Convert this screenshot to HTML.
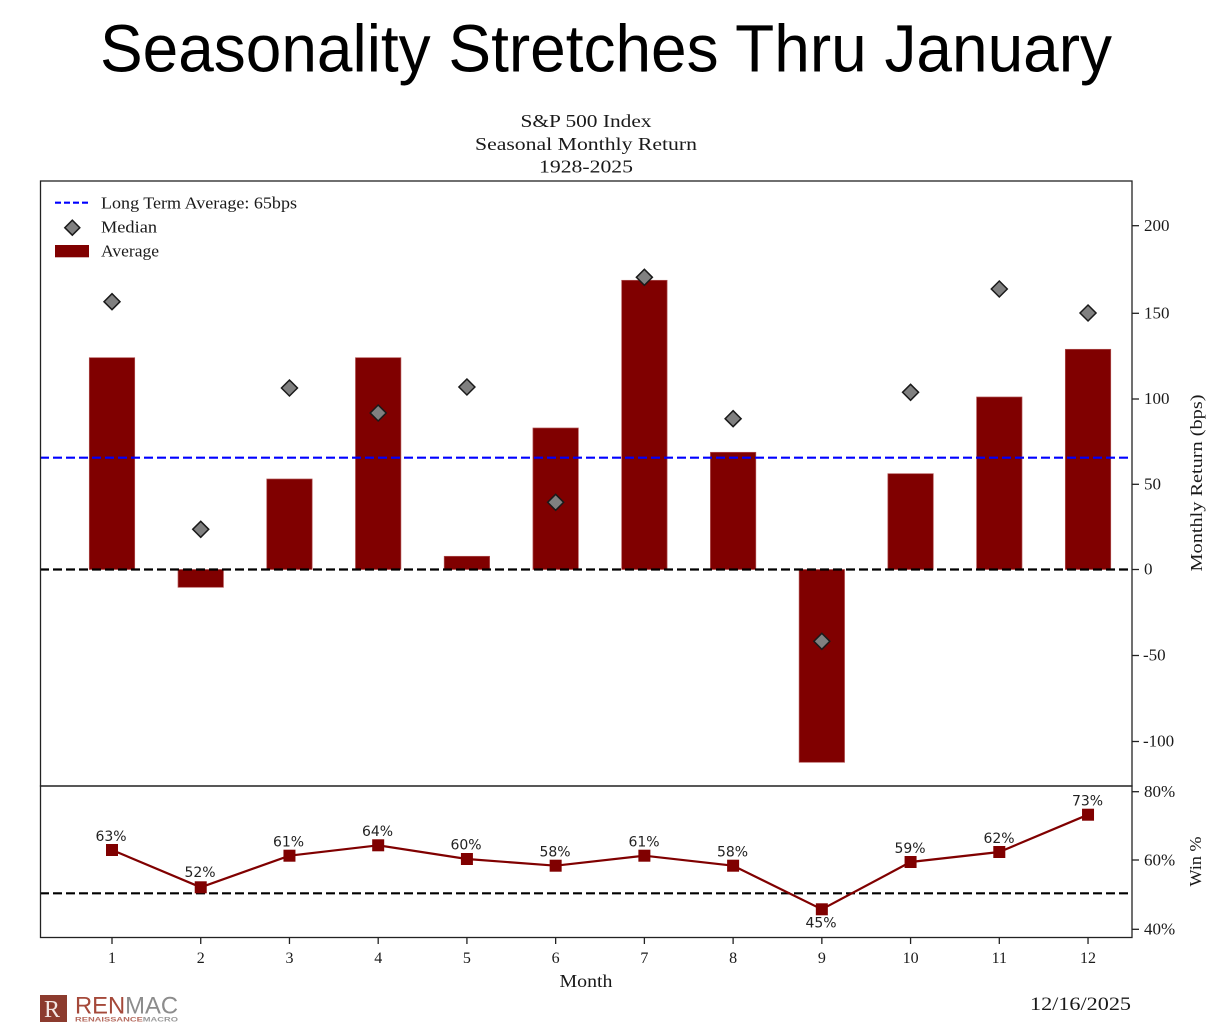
<!DOCTYPE html>
<html>
<head>
<meta charset="utf-8">
<style>
html,body{margin:0;padding:0;background:#fff;}
svg{display:block;}
.serif{font-family:"Liberation Serif","DejaVu Serif",serif;fill:#1a1a1a;}
.sans{font-family:"DejaVu Sans","Liberation Sans",sans-serif;fill:#222;}
</style>
</head>
<body>
<svg width="1218" height="1032" viewBox="0 0 1218 1032" xmlns="http://www.w3.org/2000/svg">
<rect x="0" y="0" width="1218" height="1032" fill="#fff"/>

<!-- Main title -->
<text x="100" y="71.7" font-family="'Liberation Sans',sans-serif" font-size="67" fill="#000" textLength="1012" lengthAdjust="spacingAndGlyphs">Seasonality Stretches Thru January</text>

<!-- Chart title -->
<text class="serif" x="586" y="127" font-size="18" text-anchor="middle" textLength="131" lengthAdjust="spacingAndGlyphs">S&amp;P 500 Index</text>
<text class="serif" x="586" y="150" font-size="18" text-anchor="middle" textLength="222" lengthAdjust="spacingAndGlyphs">Seasonal Monthly Return</text>
<text class="serif" x="586" y="172.5" font-size="18" text-anchor="middle" textLength="94" lengthAdjust="spacingAndGlyphs">1928-2025</text>

<!-- Bars -->
<g fill="#800000" stroke="#b05050" stroke-width="0.7">
<rect x="89.3" y="357.7" width="45.4" height="211.8"/>
<rect x="178.03" y="569.5" width="45.4" height="17.8"/>
<rect x="266.76" y="479" width="45.4" height="90.5"/>
<rect x="355.49" y="357.7" width="45.4" height="211.8"/>
<rect x="444.22" y="556.3" width="45.4" height="13.2"/>
<rect x="532.95" y="428" width="45.4" height="141.5"/>
<rect x="621.68" y="280.3" width="45.4" height="289.2"/>
<rect x="710.41" y="452.3" width="45.4" height="117.2"/>
<rect x="799.14" y="569.5" width="45.4" height="192.8"/>
<rect x="887.87" y="473.7" width="45.4" height="95.8"/>
<rect x="976.6" y="397" width="45.4" height="172.5"/>
<rect x="1065.33" y="349.3" width="45.4" height="220.2"/>
</g>

<!-- Zero line and long term average -->
<line x1="40" y1="569.5" x2="1132" y2="569.5" stroke="#000" stroke-width="2.2" stroke-dasharray="9,4"/>
<line x1="40" y1="457.7" x2="1132" y2="457.7" stroke="#0000ff" stroke-width="2.2" stroke-dasharray="9,4"/>

<!-- Median diamonds -->
<g fill="#808080" stroke="#1a1a1a" stroke-width="1.5">
<polygon points="112,293.7 120,301.7 112,309.7 104,301.7"/>
<polygon points="200.73,521.3 208.73,529.3 200.73,537.3 192.73,529.3"/>
<polygon points="289.46,380 297.46,388 289.46,396 281.46,388"/>
<polygon points="378.19,405 386.19,413 378.19,421 370.19,413"/>
<polygon points="466.92,379 474.92,387 466.92,395 458.92,387"/>
<polygon points="555.65,494.3 563.65,502.3 555.65,510.3 547.65,502.3"/>
<polygon points="644.38,269.3 652.38,277.3 644.38,285.3 636.38,277.3"/>
<polygon points="733.11,410.7 741.11,418.7 733.11,426.7 725.11,418.7"/>
<polygon points="821.84,633.3 829.84,641.3 821.84,649.3 813.84,641.3"/>
<polygon points="910.57,384.3 918.57,392.3 910.57,400.3 902.57,392.3"/>
<polygon points="999.3,281 1007.3,289 999.3,297 991.3,289"/>
<polygon points="1088.03,305 1096.03,313 1088.03,321 1080.03,313"/>
</g>

<!-- Legend -->
<line x1="55" y1="202.7" x2="89" y2="202.7" stroke="#0000ff" stroke-width="2.2" stroke-dasharray="6,3"/>
<polygon points="72.3,220.2 79.8,227.7 72.3,235.2 64.8,227.7" fill="#808080" stroke="#1a1a1a" stroke-width="1.5"/>
<rect x="55" y="245" width="34" height="12.3" fill="#800000"/>
<text class="serif" x="101" y="208.3" font-size="16.5" textLength="196" lengthAdjust="spacingAndGlyphs">Long Term Average: 65bps</text>
<text class="serif" x="101" y="232.7" font-size="16.5" textLength="56" lengthAdjust="spacingAndGlyphs">Median</text>
<text class="serif" x="101" y="256.7" font-size="16.5" textLength="58" lengthAdjust="spacingAndGlyphs">Average</text>

<!-- Main axes frame -->
<rect x="40.5" y="181" width="1091.5" height="605" fill="none" stroke="#222" stroke-width="1.3"/>

<!-- Right ticks main -->
<g stroke="#222" stroke-width="1.3">
<line x1="1132" y1="225.7" x2="1139" y2="225.7"/>
<line x1="1132" y1="313.3" x2="1139" y2="313.3"/>
<line x1="1132" y1="399" x2="1139" y2="399"/>
<line x1="1132" y1="484.3" x2="1139" y2="484.3"/>
<line x1="1132" y1="569.5" x2="1139" y2="569.5"/>
<line x1="1132" y1="655.5" x2="1139" y2="655.5"/>
<line x1="1132" y1="741.5" x2="1139" y2="741.5"/>
</g>
<g class="serif" font-size="17">
<text x="1144" y="231">200</text>
<text x="1144" y="318.5">150</text>
<text x="1144" y="404">100</text>
<text x="1144" y="489.5">50</text>
<text x="1144" y="574.5">0</text>
<text x="1143" y="660.5">-50</text>
<text x="1143" y="746.5">-100</text>
</g>
<text class="serif" x="0" y="0" font-size="17" text-anchor="middle" transform="translate(1202,483) rotate(-90)" textLength="177" lengthAdjust="spacingAndGlyphs">Monthly Return (bps)</text>

<!-- Lower panel -->
<line x1="40" y1="893.3" x2="1132" y2="893.3" stroke="#000" stroke-width="2.2" stroke-dasharray="9,4"/>
<polyline fill="none" stroke="#800000" stroke-width="2.2" points="112,850 200.73,887.3 289.46,855.7 378.19,845.3 466.92,859 555.65,865.7 644.38,855.7 733.11,865.7 821.84,909.3 910.57,862 999.3,852 1088.03,814.7"/>
<g fill="#800000">
<rect x="106" y="844" width="12" height="12"/>
<rect x="194.73" y="881.3" width="12" height="12"/>
<rect x="283.46" y="849.7" width="12" height="12"/>
<rect x="372.19" y="839.3" width="12" height="12"/>
<rect x="460.92" y="853" width="12" height="12"/>
<rect x="549.65" y="859.7" width="12" height="12"/>
<rect x="638.38" y="849.7" width="12" height="12"/>
<rect x="727.11" y="859.7" width="12" height="12"/>
<rect x="815.84" y="903.3" width="12" height="12"/>
<rect x="904.57" y="856" width="12" height="12"/>
<rect x="993.3" y="846" width="12" height="12"/>
<rect x="1082.03" y="808.7" width="12" height="12"/>
</g>
<g class="sans" font-size="14" text-anchor="middle">
<text x="111" y="841">63%</text>
<text x="200" y="877">52%</text>
<text x="288.5" y="846.5">61%</text>
<text x="377.5" y="836">64%</text>
<text x="466" y="849.5">60%</text>
<text x="555" y="856.5">58%</text>
<text x="644" y="846.5">61%</text>
<text x="732.5" y="856.5">58%</text>
<text x="821" y="927.5">45%</text>
<text x="910" y="853">59%</text>
<text x="999" y="843">62%</text>
<text x="1087.5" y="805.5">73%</text>
</g>
<rect x="40.5" y="786" width="1091.5" height="151.5" fill="none" stroke="#222" stroke-width="1.3"/>
<g stroke="#222" stroke-width="1.3">
<line x1="1132" y1="791.7" x2="1139" y2="791.7"/>
<line x1="1132" y1="860" x2="1139" y2="860"/>
<line x1="1132" y1="929.3" x2="1139" y2="929.3"/>
</g>
<g class="serif" font-size="17">
<text x="1144" y="797">80%</text>
<text x="1144" y="865.5">60%</text>
<text x="1144" y="934.5">40%</text>
</g>
<text class="serif" x="0" y="0" font-size="17" text-anchor="middle" transform="translate(1201,861.5) rotate(-90)" textLength="50" lengthAdjust="spacingAndGlyphs">Win %</text>

<!-- X ticks -->
<g stroke="#222" stroke-width="1.3">
<line x1="112" y1="937.5" x2="112" y2="944"/>
<line x1="200.73" y1="937.5" x2="200.73" y2="944"/>
<line x1="289.46" y1="937.5" x2="289.46" y2="944"/>
<line x1="378.19" y1="937.5" x2="378.19" y2="944"/>
<line x1="466.92" y1="937.5" x2="466.92" y2="944"/>
<line x1="555.65" y1="937.5" x2="555.65" y2="944"/>
<line x1="644.38" y1="937.5" x2="644.38" y2="944"/>
<line x1="733.11" y1="937.5" x2="733.11" y2="944"/>
<line x1="821.84" y1="937.5" x2="821.84" y2="944"/>
<line x1="910.57" y1="937.5" x2="910.57" y2="944"/>
<line x1="999.3" y1="937.5" x2="999.3" y2="944"/>
<line x1="1088.03" y1="937.5" x2="1088.03" y2="944"/>
</g>
<g class="serif" font-size="16" text-anchor="middle">
<text x="112" y="963">1</text>
<text x="200.73" y="963">2</text>
<text x="289.46" y="963">3</text>
<text x="378.19" y="963">4</text>
<text x="466.92" y="963">5</text>
<text x="555.65" y="963">6</text>
<text x="644.38" y="963">7</text>
<text x="733.11" y="963">8</text>
<text x="821.84" y="963">9</text>
<text x="910.57" y="963">10</text>
<text x="999.3" y="963">11</text>
<text x="1088.03" y="963">12</text>
</g>
<text class="serif" x="586" y="987" font-size="18" text-anchor="middle" textLength="53" lengthAdjust="spacingAndGlyphs">Month</text>

<!-- Date -->
<text class="serif" x="1131" y="1010" font-size="19" text-anchor="end" textLength="101" lengthAdjust="spacingAndGlyphs">12/16/2025</text>

<!-- Logo -->
<rect x="40" y="995" width="27" height="27" fill="#8c3b2e"/>
<text x="44" y="1017" font-family="'Liberation Serif',serif" font-size="24" fill="#f3e6e3">R</text>
<text x="75" y="1013.5" font-family="'Liberation Sans',sans-serif" font-size="24.5" textLength="103" lengthAdjust="spacingAndGlyphs"><tspan fill="#a5493a">REN</tspan><tspan fill="#8c8c8c">MAC</tspan></text>
<text x="75" y="1021.5" font-family="'Liberation Sans',sans-serif" font-size="6.5" font-weight="bold" textLength="103" lengthAdjust="spacingAndGlyphs"><tspan fill="#b56a5e">RENAISSANCE</tspan><tspan fill="#9a9a9a">MACRO</tspan></text>
</svg>
</body>
</html>
